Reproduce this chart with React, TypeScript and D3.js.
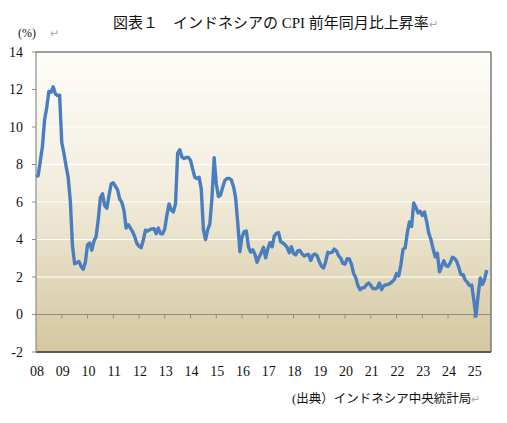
import React from 'react';
import * as d3 from 'd3';

// Indonesia CPI, year-on-year (%), monthly from Jan 2008
const cpi2008 = [7.36, 7.4, 8.17, 8.96, 10.38, 11.03, 11.9, 11.85, 12.14, 11.77, 11.68, 11.7];
const cpi2009 = [9.17, 8.6, 7.92, 7.31, 6.04, 3.65, 2.71, 2.75, 2.83, 2.57, 2.41, 2.78];
const cpi2010 = [3.72, 3.81, 3.43, 3.91, 4.16, 5.05, 6.22, 6.44, 5.8, 5.67, 6.33, 6.96];
const cpi2011 = [7.02, 6.84, 6.65, 6.16, 5.98, 5.54, 4.61, 4.79, 4.61, 4.42, 4.15, 3.79];
const cpi2012 = [3.65, 3.56, 3.97, 4.5, 4.45, 4.53, 4.56, 4.58, 4.31, 4.61, 4.32, 4.3];
const cpi2013 = [4.57, 5.31, 5.9, 5.57, 5.47, 5.9, 8.61, 8.79, 8.4, 8.32, 8.37, 8.38];
const cpi2014 = [8.22, 7.75, 7.32, 7.25, 7.32, 6.7, 4.53, 3.99, 4.53, 4.83, 6.23, 8.36];
const cpi2015 = [6.96, 6.29, 6.38, 6.79, 7.15, 7.26, 7.26, 7.18, 6.83, 6.25, 4.89, 3.35];
const cpi2016 = [4.14, 4.42, 4.45, 3.6, 3.33, 3.45, 3.21, 2.79, 3.07, 3.31, 3.58, 3.02];
const cpi2017 = [3.49, 3.83, 3.61, 4.17, 4.33, 4.37, 3.88, 3.82, 3.72, 3.58, 3.3, 3.61];
const cpi2018 = [3.25, 3.18, 3.4, 3.41, 3.23, 3.12, 3.18, 3.2, 2.88, 3.16, 3.23, 3.13];
const cpi2019 = [2.82, 2.57, 2.48, 2.83, 3.32, 3.28, 3.32, 3.49, 3.39, 3.13, 3.0, 2.72];
const cpi2020 = [2.68, 2.98, 2.96, 2.67, 2.19, 1.96, 1.54, 1.32, 1.42, 1.44, 1.59, 1.68];
const cpi2021 = [1.55, 1.38, 1.37, 1.42, 1.68, 1.33, 1.52, 1.59, 1.6, 1.66, 1.75, 1.87];
const cpi2022 = [2.18, 2.06, 2.64, 3.47, 3.55, 4.35, 4.94, 4.69, 5.95, 5.71, 5.42, 5.51];
const cpi2023 = [5.28, 5.47, 4.97, 4.33, 4.0, 3.52, 3.08, 3.27, 2.28, 2.56, 2.86, 2.61];
const cpi2024 = [2.57, 2.75, 3.05, 3.0, 2.84, 2.51, 2.13, 2.12, 1.84, 1.71, 1.55, 1.57];
const cpi2025 = [0.76, -0.09, 1.03, 1.95, 1.6, 1.87, 2.37];

const cpi = [
  ...cpi2008, ...cpi2009, ...cpi2010, ...cpi2011, ...cpi2012, ...cpi2013,
  ...cpi2014, ...cpi2015, ...cpi2016, ...cpi2017, ...cpi2018, ...cpi2019,
  ...cpi2020, ...cpi2021, ...cpi2022, ...cpi2023, ...cpi2024, ...cpi2025,
];

const yearLabels = ['08', '09', '10', '11', '12', '13', '14', '15', '16', '17', '18', '19', '20', '21', '22', '23', '24', '25'];
const yTicks = [-2, 0, 2, 4, 6, 8, 10, 12, 14];

const serif = '"Liberation Serif", "Noto Sans CJK JP", serif';
const jp = '"Liberation Serif", "Noto Sans CJK JP", sans-serif';

export default function App() {
  const left = 36, right = 491, top = 52, bottom = 352;
  // category slots through Sep 2025 (axis runs a little past the last point)
  const nSlots = 213;

  const x = d3.scaleLinear().domain([0, nSlots - 1]).range([left, right]);
  const y = d3.scaleLinear().domain([-2, 14]).range([bottom, top]);

  const line = d3.line<number>()
    .x((_, i) => x(i))
    .y(d => y(d));

  return (
    <svg width={507} height={423} style={{ position: 'absolute', left: 0, top: 0 }}>
      <defs>
        <linearGradient id="bg" x1="0" y1="0" x2="0" y2="1">
          <stop offset="0%" stopColor="#fefdf9" />
          <stop offset="45%" stopColor="#f2edde" />
          <stop offset="100%" stopColor="#d4c79f" />
        </linearGradient>
      </defs>
      <rect width={507} height={423} fill="#ffffff" />

      {/* title */}
      <text x={113} y={28} fontFamily={jp} fontSize={15} fill="#111">
        図表１　インドネシアの CPI 前年同月比上昇率<tspan fill="#aaa" fontSize={11}>↵</tspan>
      </text>
      <text x={18} y={37} fontFamily={serif} fontSize={12} fill="#111">
        (%)
        <tspan dx={14} fill="#aaa" fontSize={11}>↵</tspan>
      </text>

      {/* plot area */}
      <rect x={left} y={top} width={right - left} height={bottom - top} fill="url(#bg)" />
      {yTicks.filter(t => t > 0 && t < 14).map(t => (
        <line key={t} x1={left} x2={right} y1={y(t)} y2={y(t)} stroke="#ffffff" strokeWidth={1.2} />
      ))}
      <line x1={left} x2={right} y1={top} y2={top} stroke="#7a7a7a" strokeWidth={1.5} />
      <line x1={right} x2={right} y1={top} y2={bottom} stroke="#7a7a7a" strokeWidth={1.5} />
      <line x1={left} x2={right} y1={bottom} y2={bottom} stroke="#5e5a4e" strokeWidth={2} />

      {/* y axis */}
      <line x1={left} x2={left} y1={top} y2={bottom} stroke="#8c8c8c" strokeWidth={1.2} />
      {yTicks.map(t => (
        <g key={t}>
          <line x1={left - 4} x2={left} y1={y(t)} y2={y(t)} stroke="#8c8c8c" strokeWidth={1} />
          <text x={23} y={y(t)} dy="0.35em" textAnchor="end" fontFamily={serif} fontSize={14} fill="#111">
            {t}
          </text>
        </g>
      ))}

      {/* x axis at zero */}
      <line x1={left} x2={right} y1={y(0)} y2={y(0)} stroke="#8c8c8c" strokeWidth={1.2} />
      {yearLabels.map((lab, k) => (
        <g key={lab}>
          {k > 0 && (
            <line x1={x(k * 12)} x2={x(k * 12)} y1={y(0)} y2={y(0) + 4} stroke="#8c8c8c" strokeWidth={1} />
          )}
          <text x={x(k * 12) + 1} y={376} textAnchor="middle" fontFamily={serif} fontSize={14} fill="#111">
            {lab}
          </text>
        </g>
      ))}

      {/* series */}
      <path d={line(cpi) || ''} fill="none" stroke="#4a7ebf" strokeWidth={3.4} strokeLinejoin="round" />

      {/* source */}
      <text x={292} y={403} fontFamily={jp} fontSize={12.5} fill="#111">
        (出典）インドネシア中央統計局<tspan fill="#aaa" fontSize={11}>↵</tspan>
      </text>
    </svg>
  );
}
